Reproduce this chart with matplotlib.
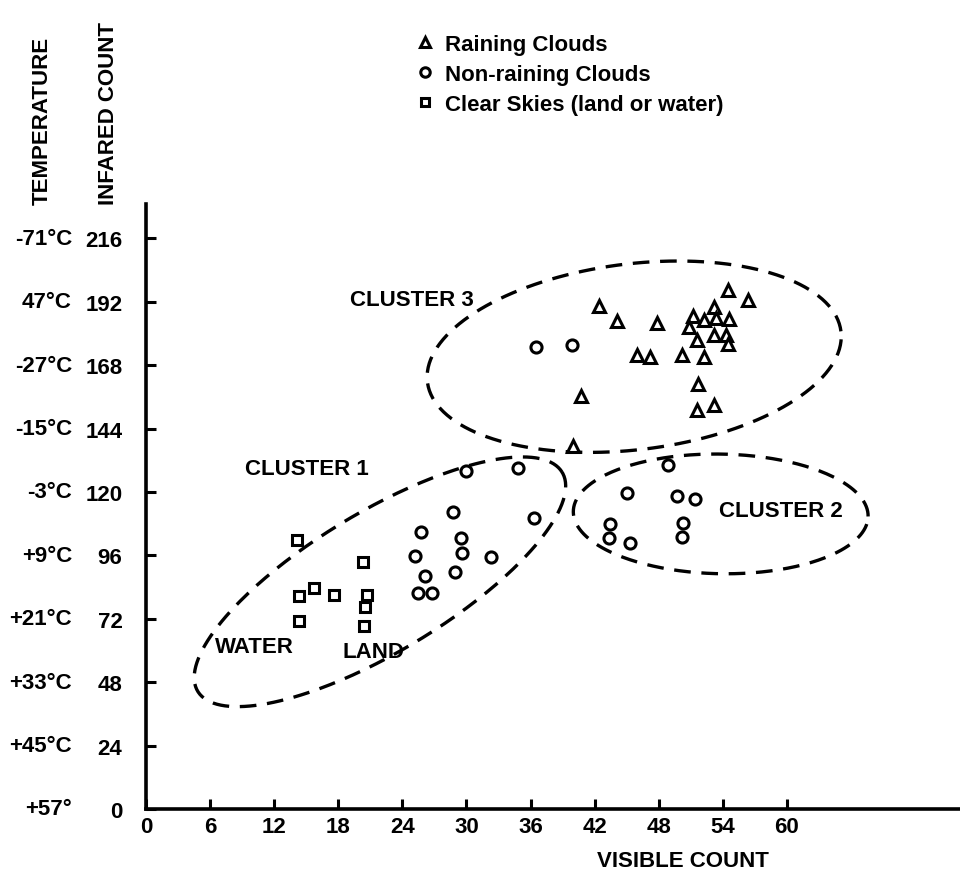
import numpy as np
import matplotlib
matplotlib.use('Agg')
import matplotlib.pyplot as plt
import matplotlib.transforms as mtransforms

plt.rcParams['font.family'] = ['Liberation Sans', 'DejaVu Sans']
plt.rcParams['font.weight'] = 'bold'

# raining clouds (triangles)
rain_x = [42.4, 44.1, 47.8, 54.5, 56.4, 53.2, 51.2, 52.2, 53.4, 54.6, 50.8, 53.2,
          54.3, 54.5, 51.6, 46.0, 47.2, 50.2, 52.2, 51.7, 40.7, 51.6, 53.2, 40.0]
rain_y = [190.5, 184.8, 184.0, 196.6, 192.8, 190.0, 186.7, 185.0, 186.0, 185.6, 182.6, 179.5,
          179.5, 176.0, 177.6, 172.0, 171.0, 172.0, 171.0, 161.0, 156.4, 151.0, 153.0, 137.5]

# non-raining clouds (circles)
cloud_x = [36.5, 39.9,
           30.0, 34.8, 28.7, 36.3, 25.7, 29.5, 25.2, 29.6, 32.3, 26.1, 28.9, 25.5, 26.8,
           48.9, 45.0, 49.7, 51.4, 43.4, 50.3, 43.3, 45.3, 50.2]
cloud_y = [175.0, 175.8,
           128.0, 129.0, 112.5, 110.0, 105.0, 102.6, 95.8, 97.0, 95.5, 88.2, 89.7, 81.8, 81.8,
           130.3, 119.7, 118.6, 117.4, 108.0, 108.3, 102.7, 100.8, 103.0]

# clear skies (squares)
clear_x = [14.1, 20.3, 15.7, 14.3, 17.6, 20.7, 20.5, 14.3, 20.4]
clear_y = [102.0, 93.6, 83.7, 80.7, 81.0, 81.0, 76.5, 71.2, 69.3]

x_ticks = [0, 6, 12, 18, 24, 30, 36, 42, 48, 54, 60]
ir_ticks = [0, 24, 48, 72, 96, 120, 144, 168, 192, 216]
temp_labels = ['+57°', '+45°C', '+33°C', '+21°C', '+9°C', '-3°C', '-15°C', '-27°C', '47°C', '-71°C']

# cluster ellipses: centre (data), semi-axes in x units, tilt on screen
cluster_cx = [21.9, 53.8, 45.7]
cluster_cy = [86.0, 111.7, 171.2]
cluster_a = [19.9, 13.8, 19.5]
cluster_b = [6.55, 5.6, 8.7]
cluster_ang = [31, -1, 7]

fig = plt.figure(figsize=(9.6, 8.79), dpi=100)
ax = fig.add_axes([146 / 960, 69 / 879, 814 / 960, 605 / 879])
ax.set_xlim(0, 76.2)
ax.set_ylim(0, 229)

# px per unit, to keep ellipse tilt right on screen
sx = 814 / 76.2
sy = 605 / 229
t = np.linspace(0, 2 * np.pi, 300)
for cx, cy, a, b, ang in zip(cluster_cx, cluster_cy, cluster_a, cluster_b, cluster_ang):
    th = np.radians(ang)
    u = a * np.cos(t)
    v = b * np.sin(t)
    ex = cx + u * np.cos(th) - v * np.sin(th)
    ey = cy + (u * np.sin(th) + v * np.cos(th)) * sx / sy
    ax.plot(ex, ey, color='black', lw=2.4, dashes=(5, 3.2))

mk = dict(linestyle='none', markerfacecolor='white', markeredgecolor='black', markeredgewidth=2.2)
ax.plot(rain_x, rain_y, marker='^', markersize=8.5, label='Raining Clouds', **mk)
ax.plot(cloud_x, cloud_y, marker='o', markersize=8, label='Non-raining Clouds', **mk)
ax.plot(clear_x, clear_y, marker='s', markersize=7, label='Clear Skies (land or water)', **mk)

fs = 16
ax.text(19.1, 193, 'CLUSTER 3', fontsize=fs, va='center')
ax.text(9.3, 128.8, 'CLUSTER 1', fontsize=fs, va='center')
ax.text(53.6, 112.9, 'CLUSTER 2', fontsize=fs, va='center')
ax.text(6.5, 61.4, 'WATER', fontsize=fs, va='center')
ax.text(18.4, 59.8, 'LAND', fontsize=fs, va='center')

for s in ['top', 'right']:
    ax.spines[s].set_visible(False)
for s in ['left', 'bottom']:
    ax.spines[s].set_linewidth(2.6)

ax.set_xticks(x_ticks)
ax.set_yticks(ir_ticks)
ax.tick_params(direction='in', length=7, width=2.2, labelsize=fs)
ax.tick_params(axis='y', pad=17)
ax.tick_params(axis='x', pad=5)
ax.set_xlabel('VISIBLE COUNT', fontsize=fs, fontweight='bold', va='center')
ax.xaxis.set_label_coords((683 - 146) / 814, -(862 - 810) / 605)

trans = mtransforms.blended_transform_factory(ax.transAxes, ax.transData)
for yv, lab in zip(ir_ticks, temp_labels):
    ax.text(-0.091, yv, lab, transform=trans, fontsize=fs, ha='right', va='center')

fig.text(42 / 960, 1 - 205 / 879, 'TEMPERATURE', rotation=90, fontsize=fs, ha='center', va='bottom')
fig.text(108 / 960, 1 - 205 / 879, 'INFARED COUNT', rotation=90, fontsize=fs, ha='center', va='bottom')

ax.legend(loc='upper left', bbox_to_anchor=(405 / 960, 1 - 24 / 879), bbox_transform=fig.transFigure,
          frameon=False, fontsize=fs, handlelength=0.8, handletextpad=0.5, labelspacing=0.4,
          markerscale=0.85, borderpad=0)

fig.savefig('out.png', dpi=100)
